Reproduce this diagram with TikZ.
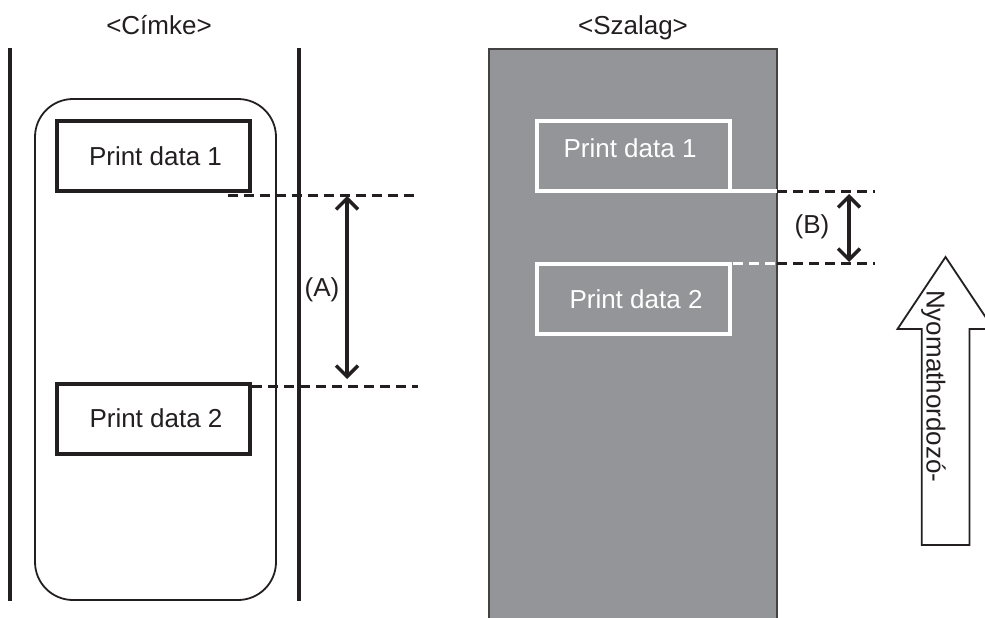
\documentclass[tikz,border=0pt]{standalone}
\usepackage{fontspec}
\setmainfont{Liberation Sans}
\usetikzlibrary{arrows.meta}
\definecolor{tapegray}{HTML}{939598}
\definecolor{ink}{HTML}{231F20}
\begin{document}
\begin{tikzpicture}[x=1pt,y=-1pt,
  txt/.style={font=\fontsize{26}{30}\selectfont, inner sep=0pt, anchor=base, text=ink},
  wtxt/.style={txt, text=white},
  pbox/.style={draw=ink, line width=4pt, minimum width=193pt, minimum height=70pt, inner sep=0pt, outer sep=0pt},
  wbox/.style={draw=white, line width=3.5pt, minimum width=193pt, minimum height=70pt, inner sep=0pt, outer sep=0pt},
  dim/.style={draw=ink, line width=3pt, dash pattern=on 10pt off 6pt},
  wdim/.style={draw=white, line width=3pt, dash pattern=on 10pt off 6pt},
  dimarrow/.style={draw=ink, line width=3.5pt, {Straight Barb[length=11pt,width=22pt]}-{Straight Barb[length=11pt,width=22pt]}},
  rail/.style={draw=ink, line width=3.5pt}
]
\useasboundingbox (0,0) rectangle (985,618);
\clip (0,0) rectangle (985,618);

% titles
\node[txt] (t1) at (159,35) {<Címke>};
\node[txt] (t2) at (633,35) {<Szalag>};

% ---------- left: label ----------
\coordinate (r1a) at (10,48);  \coordinate (r1b) at (10,601);
\coordinate (r2a) at (299,48); \coordinate (r2b) at (299,601);
\draw[rail] (r1a) -- (r1b);
\draw[rail] (r2a) -- (r2b);
\draw[draw=ink, line width=1.8pt, rounded corners=38pt] (35,99) rectangle (276,600);

\node[pbox] (lb1) at (153.5,156) {};
\node[txt] (lt1) at (155.5,165) {Print data 1};
\node[pbox] (lb2) at (153.5,419) {};
\node[txt] (lt2) at (156,427) {Print data 2};

\coordinate (da1) at (228,195); \coordinate (da2) at (418,195);
\coordinate (db1) at (252,386); \coordinate (db2) at (418,386);
\draw[dim] (da1) -- (da2);
\draw[dim] (db1) -- (db2);
\coordinate (aa) at (347,196); \coordinate (ab) at (347,379);
\draw[dimarrow] (aa) -- (ab);
\node[txt] (la) at (322,296) {(A)};

% ---------- right: tape ----------
\fill[tapegray] (489,49) rectangle (777,625);
\draw[draw=ink!85, line width=1.8pt] (489,625) -- (489,49) -- (777,49) -- (777,625);

\node[wbox] (rb1) at (633.5,156) {};
\node[wtxt] (rt1) at (630,157) {Print data 1};
\node[wbox] (rb2) at (633.5,299) {};
\node[wtxt] (rt2) at (636,308) {Print data 2};

\coordinate (w1) at (730,191);
\coordinate (w2) at (777,191);
\draw[white, line width=3.5pt] (w1) -- (w2);
\coordinate (bb1) at (875,191);
\draw[dim] (w2) -- (bb1);
\coordinate (w3) at (685,263); \coordinate (w4) at (777,263); \coordinate (bb2) at (875,263);
\draw[wdim] (w3) -- (w4);
\draw[dim] (w4) -- (bb2);
\coordinate (ba) at (849,194); \coordinate (bbz) at (849,262);
\draw[dimarrow] (ba) -- (bbz);
\node[txt] (lbB) at (812,233) {(B)};

% ---------- feed arrow ----------
\draw[draw=ink, line width=1.8pt, fill=white, line join=miter]
  (945.5,257) -- (993.5,329) -- (969.5,329) -- (969.5,545) -- (921.7,545) -- (921.7,329) -- (897.5,329) -- cycle;
\node[txt, rotate=-90, anchor=base west] (feed) at (926.5,290) {Nyomathordozó-};
\end{tikzpicture}
\end{document}
